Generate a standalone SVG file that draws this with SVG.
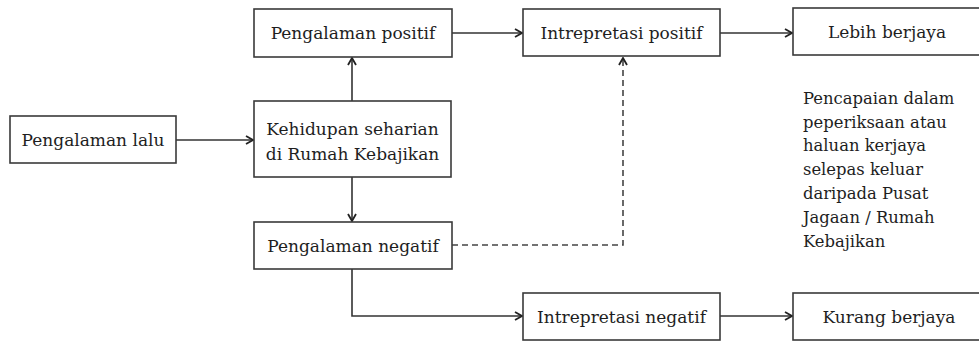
<svg xmlns="http://www.w3.org/2000/svg" width="979" height="342" viewBox="0 0 979 342">
<defs>
<style>
.box{fill:#fff;stroke:#3a3a3a;stroke-width:1.6}
.t{font-family:"DejaVu Serif","Liberation Serif",serif;font-size:17px;fill:#1e1e1e;text-anchor:middle}
.n{font-family:"DejaVu Serif","Liberation Serif",serif;font-size:16.4px;fill:#1e1e1e}
.c{fill:none;stroke:#333;stroke-width:1.6}
.d{fill:none;stroke:#444;stroke-width:1.6;stroke-dasharray:6 4}
</style>
<marker id="ah" viewBox="0 0 10 10" refX="9" refY="5" markerWidth="10" markerHeight="10" markerUnits="userSpaceOnUse" orient="auto">
<path d="M2,1 L9,5 L2,9" fill="none" stroke="#222" stroke-width="1.8"/>
</marker>
</defs>
<rect width="979" height="342" fill="#fff"/>
<g id="connectors">
<line class="c" x1="176" y1="140" x2="253" y2="140" marker-end="url(#ah)"/>
<line class="c" x1="352" y1="101" x2="352" y2="58" marker-end="url(#ah)"/>
<line class="c" x1="452" y1="33" x2="522" y2="33" marker-end="url(#ah)"/>
<line class="c" x1="720" y1="33" x2="792" y2="33" marker-end="url(#ah)"/>
<line class="c" x1="352" y1="177" x2="352" y2="221" marker-end="url(#ah)"/>
<polyline class="c" points="352,269 352,316 522,316" marker-end="url(#ah)"/>
<line class="c" x1="720" y1="316" x2="792" y2="316" marker-end="url(#ah)"/>
<polyline class="d" points="452,245 623,245 623,58" marker-end="url(#ah)"/>
</g>
<g id="pengalaman-lalu">
<rect class="box" x="10" y="116" width="166" height="47"/>
<text class="t" x="93" y="146">Pengalaman lalu</text>
</g>
<g id="pengalaman-positif">
<rect class="box" x="254" y="9" width="198" height="48"/>
<text class="t" x="353" y="39">Pengalaman positif</text>
</g>
<g id="kehidupan">
<rect class="box" x="254" y="101" width="197" height="76"/>
<text class="t" x="352.5" y="135">Kehidupan seharian</text>
<text class="t" x="352.5" y="160">di Rumah Kebajikan</text>
</g>
<g id="pengalaman-negatif">
<rect class="box" x="254" y="222" width="198" height="47"/>
<text class="t" x="353" y="252">Pengalaman negatif</text>
</g>
<g id="intrepretasi-positif">
<rect class="box" x="523" y="9" width="197" height="47"/>
<text class="t" x="621.5" y="39">Intrepretasi positif</text>
</g>
<g id="lebih-berjaya">
<rect class="box" x="793" y="8" width="190" height="47"/>
<text class="t" x="887" y="38">Lebih berjaya</text>
</g>
<g id="intrepretasi-negatif">
<rect class="box" x="523" y="293" width="197" height="47"/>
<text class="t" x="621.5" y="323">Intrepretasi negatif</text>
</g>
<g id="kurang-berjaya">
<rect class="box" x="793" y="293" width="190" height="47"/>
<text class="t" x="889" y="323">Kurang berjaya</text>
</g>
<g id="nota">
<text class="n" x="803" y="104">Pencapaian dalam</text>
<text class="n" x="803" y="127.5">peperiksaan atau</text>
<text class="n" x="803" y="151">haluan kerjaya</text>
<text class="n" x="803" y="175">selepas keluar</text>
<text class="n" x="803" y="199">daripada Pusat</text>
<text class="n" x="803" y="223">Jagaan / Rumah</text>
<text class="n" x="803" y="247">Kebajikan</text>
</g>
</svg>
